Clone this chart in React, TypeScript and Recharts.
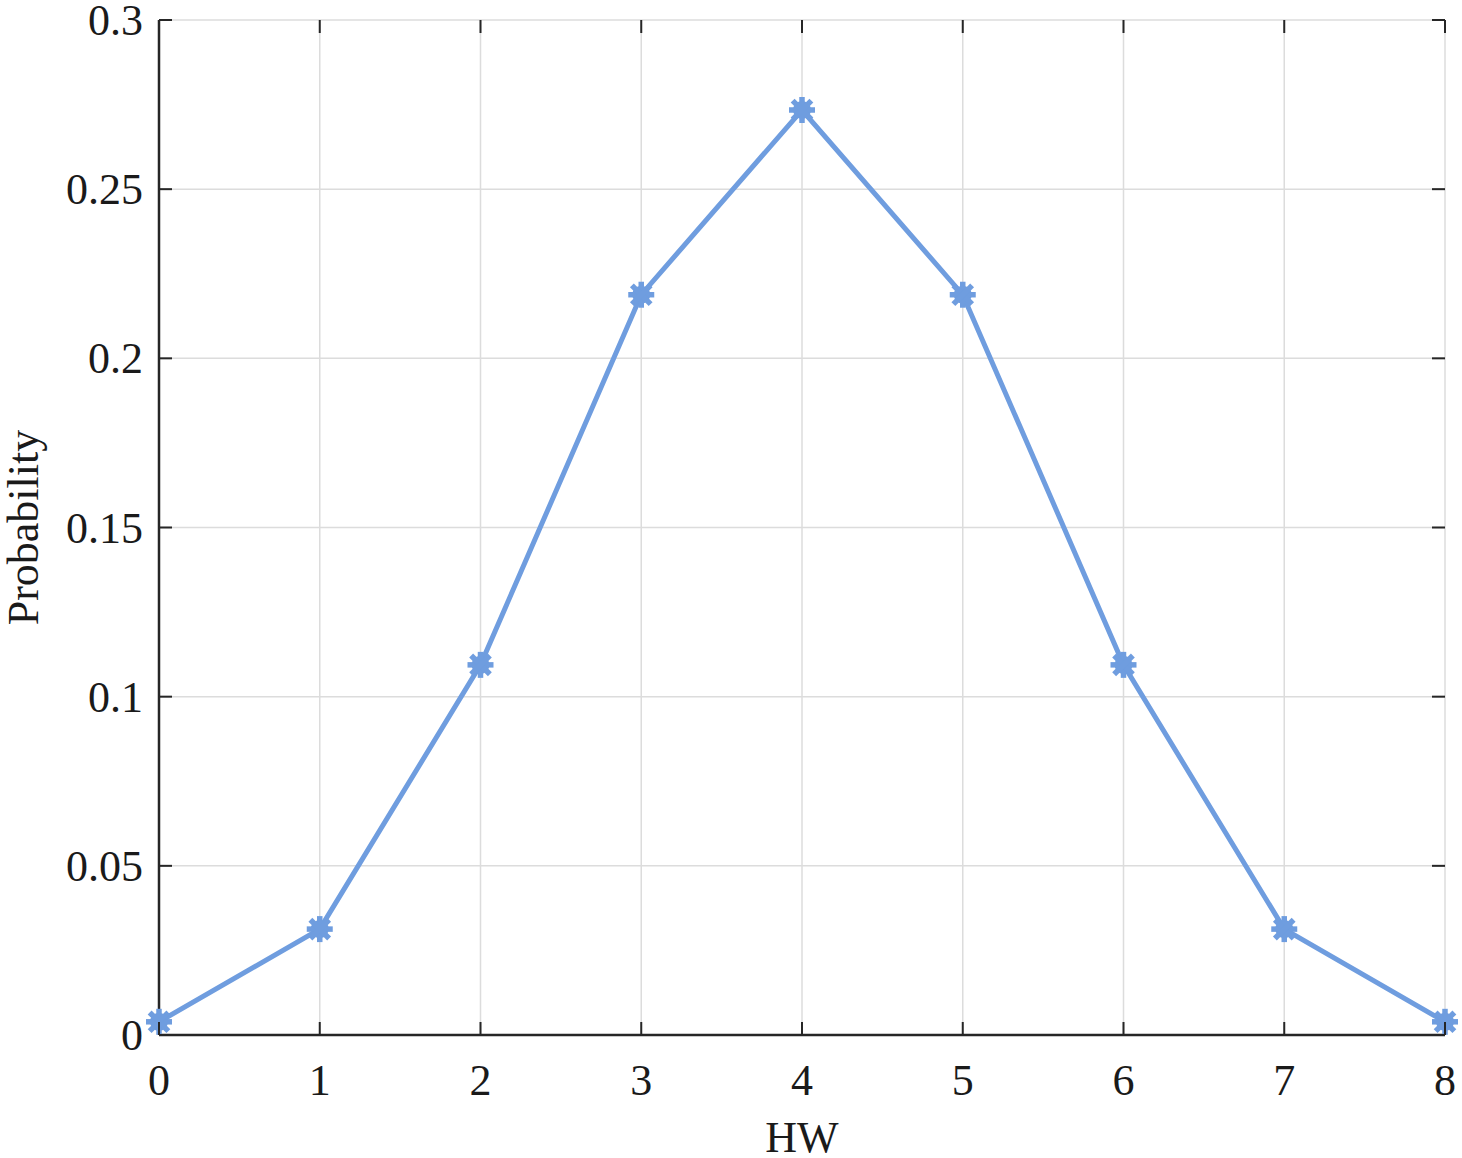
import React from "react";
import { LineChart, Line, XAxis, YAxis, CartesianGrid } from "recharts";

const hw = [0, 1, 2, 3, 4, 5, 6, 7, 8];
const probability = [0.0039, 0.0313, 0.1094, 0.2188, 0.2734, 0.2188, 0.1094, 0.0313, 0.0039];
const xTicks = [0, 1, 2, 3, 4, 5, 6, 7, 8];
const yTicks = [0, 0.05, 0.1, 0.15, 0.2, 0.25, 0.3];
const yTickLabels = ["0", "0.05", "0.1", "0.15", "0.2", "0.25", "0.3"];

const data = hw.map((h, i) => ({ hw: h, p: probability[i] }));

const FONT = "'Liberation Serif', 'DejaVu Serif', serif";
const AXIS = "#262626";
const LINE = "#6f9ddf";
const TEXT = "#1a1a1a";
const TICK_LEN = 13;

// plot box (matches margins / axis sizes below)
const W = 1462, H = 1158;
const TOP = 20, LEFT = 159, RIGHT = W - 17, BOTTOM = H - 123;

function XTick({ x, payload }: any) {
  return (
    <g>
      <line x1={x} y1={BOTTOM} x2={x} y2={BOTTOM - TICK_LEN} stroke={AXIS} strokeWidth={2} />
      <line x1={x} y1={TOP} x2={x} y2={TOP + TICK_LEN} stroke={AXIS} strokeWidth={2} />
      <text x={x} y={BOTTOM + 60} textAnchor="middle" fontFamily={FONT} fontSize={44} fill={TEXT}>
        {payload.value}
      </text>
    </g>
  );
}

function YTick({ y, payload, index }: any) {
  return (
    <g>
      <line x1={LEFT} y1={y} x2={LEFT + TICK_LEN} y2={y} stroke={AXIS} strokeWidth={2} />
      <line x1={RIGHT} y1={y} x2={RIGHT - TICK_LEN} y2={y} stroke={AXIS} strokeWidth={2} />
      <text x={LEFT - 16} y={y + 15} textAnchor="end" fontFamily={FONT} fontSize={44} fill={TEXT}>
        {yTickLabels[index] ?? payload.value}
      </text>
    </g>
  );
}

function StarDot({ cx, cy }: any) {
  if (cx == null || cy == null) return null;
  const r = 13;
  const d = r * 0.72;
  return (
    <g stroke={LINE} strokeWidth={5.5} fill={LINE}>
      <circle cx={cx} cy={cy} r={9} stroke="none" />
      <line x1={cx - r} y1={cy} x2={cx + r} y2={cy} />
      <line x1={cx} y1={cy - r} x2={cx} y2={cy + r} />
      <line x1={cx - d} y1={cy - d} x2={cx + d} y2={cy + d} />
      <line x1={cx - d} y1={cy + d} x2={cx + d} y2={cy - d} />
    </g>
  );
}

export default function App() {
  return (
    <div style={{ position: "absolute", left: 0, top: 0, width: W, height: H, background: "white" }}>
      <LineChart width={W} height={H} data={data} margin={{ top: TOP, right: 17, bottom: 0, left: 0 }}>
        <CartesianGrid xAxisId="b" yAxisId="l" stroke="#dcdcdc" strokeWidth={1.5} horizontalValues={yTicks} verticalValues={xTicks} />
        <XAxis
          xAxisId="t"
          dataKey="hw"
          type="number"
          domain={[0, 8]}
          ticks={xTicks}
          orientation="top"
          height={0}
          tick={false}
          tickLine={false}
          axisLine={{ stroke: AXIS, strokeWidth: 2.5 }}
        />
        <YAxis
          yAxisId="r"
          type="number"
          domain={[0, 0.3]}
          ticks={yTicks}
          orientation="right"
          width={0}
          tick={false}
          tickLine={false}
          axisLine={{ stroke: AXIS, strokeWidth: 2.5 }}
        />
        <XAxis
          xAxisId="b"
          dataKey="hw"
          type="number"
          domain={[0, 8]}
          ticks={xTicks}
          orientation="bottom"
          height={123}
          tickSize={0}
          tickMargin={0}
          tickLine={false}
          axisLine={{ stroke: AXIS, strokeWidth: 2.5 }}
          tick={<XTick />}
          interval={0}
          label={{
            content: () => (
              <text x={(LEFT + RIGHT) / 2} y={BOTTOM + 117} textAnchor="middle" fontFamily={FONT} fontSize={44} fill={TEXT}>
                HW
              </text>
            ),
          }}
        />
        <YAxis
          yAxisId="l"
          type="number"
          domain={[0, 0.3]}
          ticks={yTicks}
          orientation="left"
          width={159}
          tickSize={0}
          tickMargin={0}
          tickLine={false}
          axisLine={{ stroke: AXIS, strokeWidth: 2.5 }}
          tick={<YTick />}
          interval={0}
          label={{
            content: () => (
              <text
                x={38}
                y={(TOP + BOTTOM) / 2}
                transform={`rotate(-90, 38, ${(TOP + BOTTOM) / 2})`}
                textAnchor="middle"
                fontFamily={FONT}
                fontSize={44}
                fill={TEXT}
              >
                Probability
              </text>
            ),
          }}
        />
        <Line
          xAxisId="b"
          yAxisId="l"
          dataKey="p"
          type="linear"
          stroke={LINE}
          strokeWidth={5}
          dot={<StarDot />}
          activeDot={false}
          isAnimationActive={false}
        />
      </LineChart>
    </div>
  );
}
